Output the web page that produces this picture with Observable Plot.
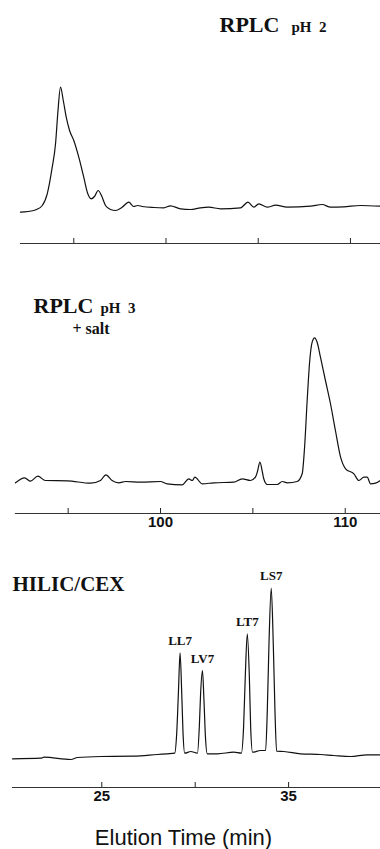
<!DOCTYPE html>
<html><head><meta charset="utf-8">
<script src="https://cdn.jsdelivr.net/npm/d3@7"></script>
<script src="https://cdn.jsdelivr.net/npm/@observablehq/plot@0.6"></script>
<style>
html,body{margin:0;padding:0;background:#fff;}
#chart{width:380px;}
#chart svg{display:block;}
#chart g[aria-label="x-axis tick label"] text{font-weight:bold;}
</style></head><body><div id="chart"></div>
<script>
// ---- Panel 1: RPLC pH 2 (time axis unlabeled in the original) ----
const p1Time = [2.11, 2.83, 2.98, 3.29, 3.56, 3.83, 4.01, 4.13, 4.28, 4.43, 4.59, 4.77, 5.00, 5.27, 5.54, 5.76, 5.94, 6.12, 6.32, 6.50, 6.72, 6.99, 7.26, 7.62, 7.98, 8.25, 8.47, 8.71, 9.34, 9.88, 10.24, 10.79, 11.33, 11.87, 12.32, 12.96, 14.04, 14.44, 14.76, 15.03, 15.49, 15.94, 16.57, 17.84, 18.47, 18.92, 19.64, 20.55, 21.63];
const p1Signal = [0.3, 2, 3, 7, 18.7, 45.3, 68.7, 98.7, 125.3, 112, 95.3, 82, 72, 55.3, 35.3, 18.7, 13.7, 16, 22, 17, 7, 3, 2, 5.3, 10.3, 6, 7, 6, 5, 4.7, 6.7, 3.7, 3, 4.7, 5.3, 3.7, 4.7, 10.3, 5.3, 8.7, 5.3, 7.3, 5.3, 6.3, 8, 5.3, 5.7, 7, 6.3];
const p1Ticks = [5, 10, 15, 20];

// ---- Panel 2: RPLC pH 3 + salt ----
const p2Time = [92.15, 92.64, 92.96, 93.36, 93.77, 94.95, 96.21, 96.75, 97.04, 97.38, 97.74, 98.11, 98.92, 100.00, 100.36, 101.17, 101.53, 101.72, 101.86, 102.26, 102.89, 103.97, 104.42, 104.87, 105.14, 105.25, 105.38, 105.52, 105.59, 105.78, 106.32, 106.59, 106.86, 107.40, 107.67, 107.80, 107.94, 108.08, 108.21, 108.34, 108.48, 108.66, 108.93, 109.20, 109.47, 109.75, 110.02, 110.47, 110.74, 111.01, 111.19, 111.37, 111.64, 111.91];
const p2Signal = [2.7, 7.7, 4.3, 9.3, 5, 4.7, 2.3, 5, 10.7, 5, 2.7, 4, 3.3, 4, 1.7, 0.7, 6.7, 5, 8.3, 1.7, 2.7, 3.3, 6.7, 5, 8.3, 14, 23.3, 13, 6.7, 1, 1, 4, 2.7, 4, 11.7, 38.3, 85, 125, 143.3, 147.7, 143.3, 128.3, 105, 82, 55, 28.3, 16.7, 11.7, 5, 8.3, 8.3, 1.7, 2.3, 5];
const p2Ticks = [95, 100, 105, 110];
const p2TickLabels = [100, 110];

// ---- Panel 3: HILIC/CEX ----
const p3Time = [20.22, 21.74, 21.91, 23.34, 23.70, 24.95, 26.71, 27.98, 28.51, 28.90, 29.01, 29.10, 29.19, 29.28, 29.35, 29.44, 29.76, 30.03, 30.12, 30.22, 30.29, 30.39, 30.47, 30.55, 30.65, 31.19, 32.07, 32.47, 32.59, 32.68, 32.79, 32.90, 32.97, 33.07, 33.50, 33.77, 33.86, 33.95, 34.07, 34.18, 34.27, 34.36, 34.75, 35.64, 36.71, 37.42, 38.32, 39.21, 39.92];
const p3Signal = [1.7, 2.3, 3.3, 1, 3, 4, 4.3, 6, 6.7, 7.3, 27, 67, 107.7, 67, 27, 7.3, 9, 7.7, 7.3, 33.3, 67, 90, 60, 23.3, 6.7, 6.7, 8.3, 7.3, 33.3, 83.3, 126.7, 83.3, 33.3, 8.3, 10, 10, 50, 116.7, 172.3, 116.7, 50, 9.3, 9, 6.7, 6, 5, 4, 5.7, 5.7];
const p3Ticks = [25, 30, 35];
const p3TickLabels = [25, 35];
const peakNames = ["LL7", "LV7", "LT7", "LS7"];
const peakTimes = [29.19, 30.39, 32.79, 34.07];
const peakHeights = [107.7, 90, 126.7, 172.3];

const serif = "'Liberation Serif', 'Times New Roman', serif";
const sans = "'Liberation Sans', Arial, sans-serif";
const ink = "#111";

function series(time, signal) { return time.map((t, i) => ({t, s: signal[i]})); }

function panel({data, xDomain, yDomain, height, marginTop, marginBottom, marginLeft, ticks, tickLabels, marks}) {
  const innerH = height - marginTop - marginBottom;
  return Plot.plot({
    width: 380, height, marginTop, marginBottom, marginLeft, marginRight: 0,
    style: {fontFamily: serif, background: "#fff", color: ink, overflow: "visible"},
    x: {domain: xDomain, axis: null, label: null},
    y: {domain: yDomain, axis: null, label: null},
    marks: [
      Plot.frame({anchor: "bottom", stroke: "#333", strokeWidth: 1.2}),
      Plot.tickX(ticks, {x: d => d, insetTop: innerH - 5, stroke: "#222", strokeWidth: 1}),
      tickLabels ? Plot.axisX({ticks: tickLabels, label: null, tickSize: 0, tickPadding: 3, fontSize: 15, fontWeight: "bold", fontFamily: sans, fill: ink}) : null,
      Plot.line(data, {x: "t", y: "s", curve: "monotone-x", stroke: ink, strokeWidth: 1.2}),
      ...marks
    ]
  });
}

const titleOpts = {textAnchor: "start", lineAnchor: "middle", frameAnchor: "top-left", fontWeight: "bold", fontFamily: serif, fill: ink};

const c1 = panel({
  data: series(p1Time, p1Signal), xDomain: [2.11, 21.63], yDomain: [-31, 192],
  height: 255, marginTop: 20, marginBottom: 12, marginLeft: 20, ticks: p1Ticks, tickLabels: null,
  marks: [
    Plot.text(["RPLC"], {...titleOpts, text: d => d, fontSize: 22, dx: 199, dy: 4}),
    Plot.text(["pH  2"], {...titleOpts, text: d => d, fontSize: 15, dx: 271, dy: 6.5})
  ]
});

const c2 = panel({
  data: series(p2Time, p2Signal), xDomain: [92.15, 111.91], yDomain: [-28, 210],
  height: 275, marginTop: 20, marginBottom: 17, marginLeft: 15, ticks: p2Ticks, tickLabels: p2TickLabels,
  marks: [
    Plot.text(["RPLC"], {...titleOpts, text: d => d, fontSize: 22, dx: 18, dy: 30}),
    Plot.text(["pH  3"], {...titleOpts, text: d => d, fontSize: 15, dx: 85, dy: 32.5}),
    Plot.text(["+ salt"], {...titleOpts, text: d => d, fontSize: 16, dx: 57, dy: 53})
  ]
});

const peaks = peakNames.map((name, i) => ({name, t: peakTimes[i], s: peakHeights[i]}));
const c3 = panel({
  data: series(p3Time, p3Signal), xDomain: [20.22, 39.92], yDomain: [-27, 210],
  height: 319, marginTop: 20, marginBottom: 62, marginLeft: 12, ticks: p3Ticks, tickLabels: p3TickLabels,
  marks: [
    Plot.text(["HILIC/CEX"], {...titleOpts, text: d => d, fontSize: 21, dx: 0, dy: 34}),
    Plot.text(peaks, {x: "t", y: "s", text: "name", dy: -12, fontSize: 13, fontWeight: "bold", fontFamily: serif, fill: ink}),
    Plot.text(["Elution Time (min)"], {text: d => d, frameAnchor: "bottom", textAnchor: "middle", lineAnchor: "middle", dx: -13, dy: 50, fontSize: 22, fontFamily: sans, fill: ink})
  ]
});

const root = document.getElementById("chart");
root.append(c1, c2, c3);
</script>
</body></html>
